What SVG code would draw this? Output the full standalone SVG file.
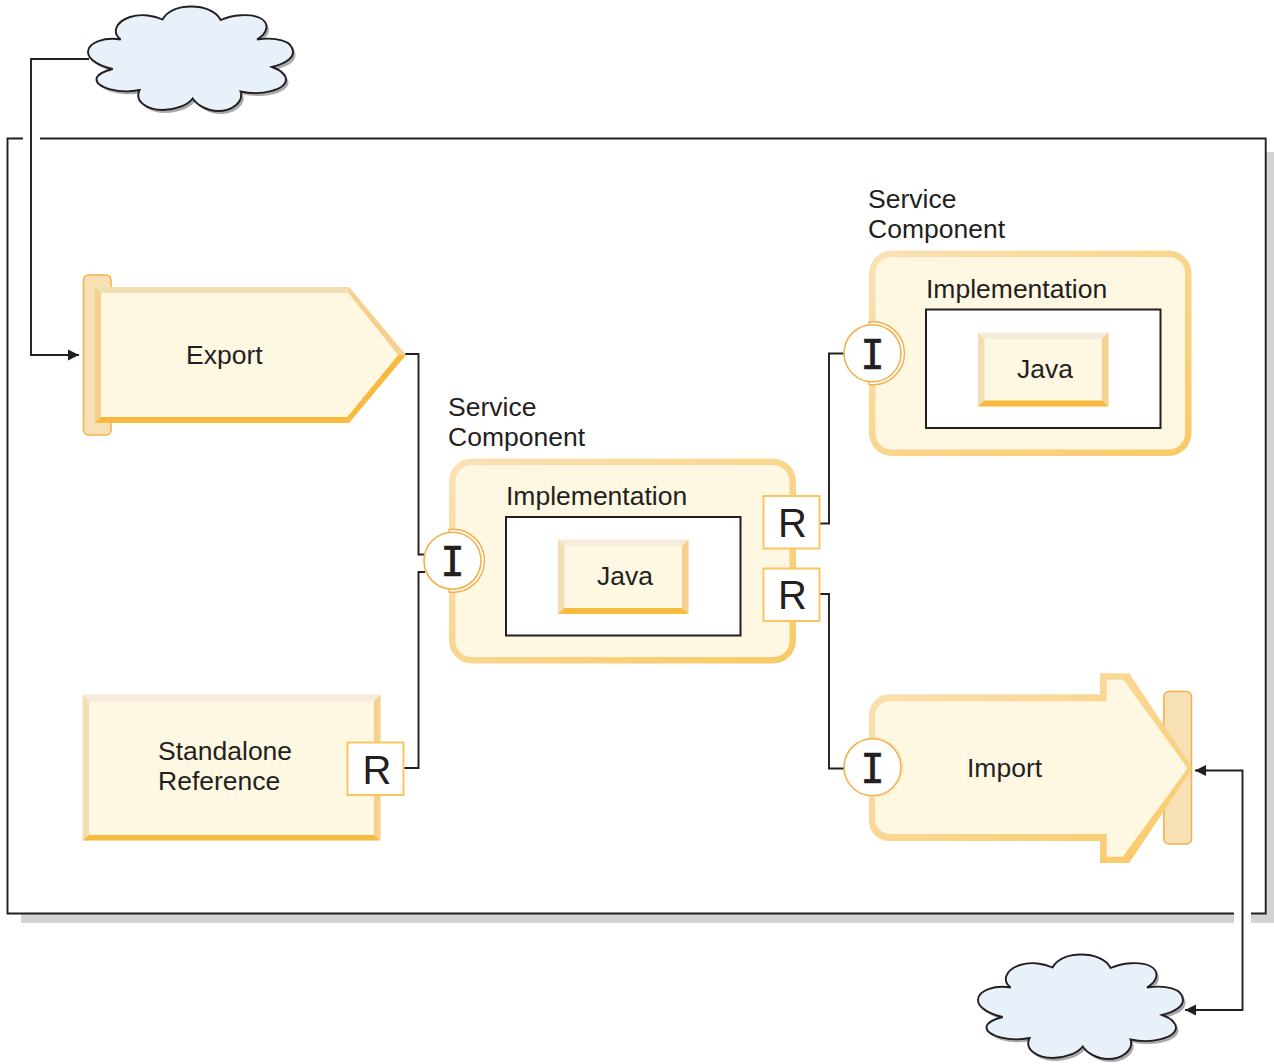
<svg xmlns="http://www.w3.org/2000/svg" width="1274" height="1064" viewBox="0 0 1274 1064">
<style>
text{font-family:"Liberation Sans",Arial,sans-serif;font-size:26.5px;fill:#231f20}
.glyphI{font-family:"DejaVu Sans Mono",monospace;font-size:40px;text-anchor:middle;stroke:#231f20;stroke-width:.7}
.glyphR{font-size:40px;text-anchor:middle}
.line{fill:none;stroke:#231f20;stroke-width:1.9}
.fill{fill:#fef8e3}
.top{fill:#f3deb3}.topj{fill:#f5ecdc}.left{fill:#f4ddb4}.right{fill:#f5d08e}.bottom{fill:#f7b93e}
.tab{fill:#f8e0b5;stroke:#f3b04a;stroke-width:1.5}
.rbox{fill:#fff;stroke:#f9c55f;stroke-width:2}
.disc{fill:#fff;stroke:#f3b04a;stroke-width:1.6}
.ring{fill:#fff;stroke:#f3b04a;stroke-width:1.4}
.ringthin{fill:#fff;stroke:#f9d89a;stroke-width:.8}
.inner{fill:#fff;stroke:#231f20;stroke-width:2}
.shadow{fill:#d1d3d4}
</style>
<defs>
<linearGradient id="edge" x1="0" y1="0" x2="1" y2="1"><stop offset="0" stop-color="#fae2b6"/><stop offset="1" stop-color="#f9c966"/></linearGradient>
<marker id="arrow" markerUnits="userSpaceOnUse" markerWidth="12" markerHeight="12" refX="11" refY="6" orient="auto-start-reverse"><path d="M0 .5L11 6L0 11.500z" fill="#231f20"/></marker>
<path id="cloudShape" d="M120.700 39.500C112 33 115 22 130 17C142 13 155 16 162.500 19.500C168 10 180 6.500 191 6.500C204 6.500 216 11 220.700 20C232 15 250 13 260 18C270 23 268 33 257 39.500C275 37 293 40 293 52C293 60 283 64 272 67C283 71 286 76 286 80C285 90 262 96 240.500 91.500C244 102 232 111 218 111C207 111 197 105 192.700 98.500C188 105 175 110 163 110C148 110 134 102 139.500 90C120 94 96 88 96.500 79C97 74 105 71 112.700 69C100 66 88 60 88 52C88 42 105 37 120.700 39.500Z"/>
</defs>

<g id="module-frame">
<rect class="shadow" x="1266" y="152" width="8" height="771"/>
<rect class="shadow" x="21" y="914" width="1213" height="9"/>
<rect class="shadow" x="1251" y="914" width="23" height="9"/>
<path class="line" d="M23 138.500H7.500V913.500H1234M1251 913.500H1265.700V138.500H40"/>
</g>

<g id="connectors">
<path class="line" marker-end="url(#arrow)" d="M89 59H31V355H79"/>
<path class="line" d="M405 354H418.500V554.500H425"/>
<path class="line" d="M425 572H418.500V768H404"/>
<path class="line" d="M819 523.500H829V353.500H845"/>
<path class="line" d="M819 594H829V768.500H845"/>
<path class="line" marker-start="url(#arrow)" marker-end="url(#arrow)" d="M1195 770.500H1242.500V1010H1185"/>
</g>

<g id="cloud-top">
<use href="#cloudShape" transform="translate(2.500 3)" fill="#a7a9ac"/>
<use href="#cloudShape" fill="#e8f1f9" stroke="#231f20" stroke-width="1.900"/>
</g>
<g id="cloud-bottom">
<use href="#cloudShape" transform="translate(892.500 951)" fill="#a7a9ac"/>
<use href="#cloudShape" transform="translate(890 948)" fill="#e8f1f9" stroke="#231f20" stroke-width="1.900"/>
</g>

<g id="export">
<rect class="tab" x="83.500" y="275" width="27.500" height="160" rx="5"/>
<path class="left" d="M95 287L101 293V417L95 423Z" style="fill:#f5cf8d"/>
<path class="top" d="M95 287H349L348 293H101Z"/>
<path class="right" d="M349 287L406 355L398 355L348 293Z"/>
<path class="bottom" d="M95 423L101 417H347L398 355H406L349 423Z"/>
<path class="fill" d="M101 293H348L398 355L347 417H101Z"/>
<text x="186" y="364">Export</text>
</g>

<g id="standalone-reference">
<rect class="fill" x="82.500" y="694.500" width="298" height="146"/>
<path class="topj" d="M82.500 694.500H380.500L374 701.500H89Z"/>
<path class="left" d="M82.500 694.500L89 701.500V835L82.500 840.500Z"/>
<path class="right" d="M380.500 694.500V840.500L374 835V701.500Z"/>
<path class="bottom" d="M82.500 840.500L89 835H374L380.500 840.500Z"/>
<text x="158" y="760">Standalone</text>
<text x="158" y="790">Reference</text>
<rect class="rbox" x="347.500" y="742.500" width="56" height="52.500"/>
<text class="glyphR" x="377" y="784">R</text>
</g>

<g id="service-component-center">
<text x="448" y="416">Service</text>
<text x="448" y="446">Component</text>
<rect x="449" y="458.500" width="347" height="205" rx="23" fill="url(#edge)"/>
<rect class="fill" x="455.500" y="465" width="334" height="192" rx="16"/>
<text x="506" y="505">Implementation</text>
<rect class="inner" x="506" y="517" width="234.500" height="118.500"/>
<g>
<rect class="fill" x="558" y="539.500" width="130.500" height="74.500"/>
<path class="topj" d="M558 539.500H688.500L682 546H564.500Z"/>
<path class="left" d="M558 539.500L564.500 546V608L558 614Z"/>
<path class="right" d="M688.500 539.500V614L682 608V546Z"/>
<path class="bottom" d="M558 614L564.500 608H682L688.500 614Z"/>
<text x="597" y="585">Java</text>
</g>
<path class="ring" d="M449 529.500A31.500 31.500 0 1 1 449 592Z"/>
<circle class="disc" cx="452.500" cy="560.700" r="28.500"/>
<text class="glyphI" x="452.500" y="576">I</text>
<rect class="rbox" x="763.500" y="496" width="56" height="52.500"/>
<text class="glyphR" x="792.500" y="537">R</text>
<rect class="rbox" x="763.500" y="568.500" width="56" height="52.500"/>
<text class="glyphR" x="792.500" y="609">R</text>
</g>

<g id="service-component-right">
<text x="868" y="208">Service</text>
<text x="868" y="238">Component</text>
<rect x="869" y="250.500" width="322.500" height="205.500" rx="23" fill="url(#edge)"/>
<rect class="fill" x="875.500" y="257" width="309.500" height="192.500" rx="16"/>
<text x="926" y="298">Implementation</text>
<rect class="inner" x="926" y="309.500" width="234.500" height="118.500"/>
<g>
<rect class="fill" x="978" y="332.500" width="130.500" height="74"/>
<path class="topj" d="M978 332.500H1108.500L1102 339H984.500Z"/>
<path class="left" d="M978 332.500L984.500 339V400.500L978 406.500Z"/>
<path class="right" d="M1108.500 332.500V406.500L1102 400.500V339Z"/>
<path class="bottom" d="M978 406.500L984.500 400.500H1102L1108.500 406.500Z"/>
<text x="1017" y="378">Java</text>
</g>
<path class="ring" d="M869 322A31.500 31.500 0 1 1 869 384.500Z"/>
<circle class="disc" cx="872.500" cy="353.300" r="28.500"/>
<text class="glyphI" x="872.500" y="369">I</text>
</g>

<g id="import">
<rect class="tab" x="1163.800" y="691.500" width="27.700" height="152.500" rx="5"/>
<path fill="url(#edge)" d="M889 694.300H1100V673.300H1129.300L1192.300 768.300L1129.300 863H1100V841H889A20 20 0 0 1 869 821V714.300A20 20 0 0 1 889 694.300Z"/>
<path class="fill" d="M890 701.300H1106.700V679.700H1123.300L1187.700 768.300L1122.700 856.700H1106.700V834H890A15 15 0 0 1 875 819V716.300A15 15 0 0 1 890 701.300Z"/>
<text x="967" y="777">Import</text>
<path class="ringthin" d="M869 737.500A30 30 0 1 1 869 797Z"/>
<circle class="disc" cx="872.500" cy="767.300" r="28.500"/>
<text class="glyphI" x="872.500" y="783">I</text>
</g>
</svg>
